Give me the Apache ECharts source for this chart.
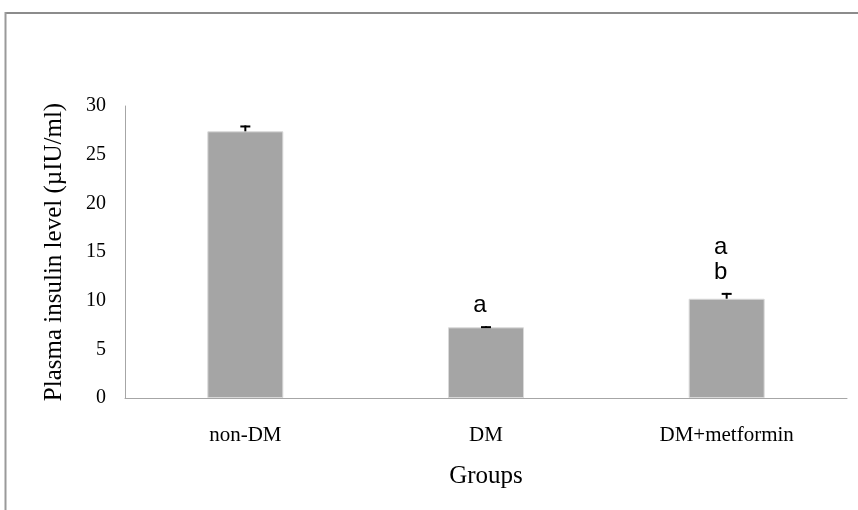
<!DOCTYPE html>
<html>
<head>
<meta charset="utf-8">
<script src="https://cdn.jsdelivr.net/npm/echarts@6/dist/echarts.min.js"></script>
<style>html,body{margin:0;padding:0;background:#fff}#c{width:858px;height:510px}</style>
</head>
<body>
<div id="c"></div>
<script>
var categories = ['non-DM', 'DM', 'DM+metformin'];
var insulin = [27.4, 7.26, 10.2];
var errors = [0.6, 0.12, 0.6];
var letters = ['', 'a', 'a\nb'];
var yTicks = { min: 0, max: 30, interval: 5 };

var serif = '"Liberation Serif", "Times New Roman", serif';
var chart = echarts.init(document.getElementById('c'), null, { renderer: 'canvas' });

var errData = categories.map(function (c, i) { return [i, insulin[i], errors[i], letters[i]]; });

chart.setOption({
  animation: false,
  backgroundColor: '#ffffff',
  graphic: [
    { type: 'line', shape: { x1: 5, y1: 13, x2: 858, y2: 13 }, style: { stroke: '#8c8c8c', lineWidth: 2 } },
    { type: 'line', shape: { x1: 5.5, y1: 12, x2: 5.5, y2: 510 }, style: { stroke: '#9a9a9a', lineWidth: 2 } }
  ],
  grid: { left: 125, right: 11, top: 106, bottom: 112, containLabel: false },
  xAxis: {
    type: 'category',
    data: categories,
    name: 'Groups',
    nameLocation: 'middle',
    nameGap: 66,
    nameTextStyle: { fontFamily: serif, fontSize: 25, color: '#000' },
    axisLine: { show: true, lineStyle: { color: '#a6a6a6', width: 1 } },
    axisTick: { show: false },
    axisLabel: { fontFamily: serif, fontSize: 21, color: '#000', margin: 27 },
    splitLine: { show: false }
  },
  yAxis: {
    type: 'value',
    min: yTicks.min,
    max: yTicks.max,
    interval: yTicks.interval,
    name: 'Plasma insulin level (µIU/ml)',
    nameLocation: 'middle',
    nameGap: 58,
    nameTextStyle: { fontFamily: serif, fontSize: 25, color: '#000' },
    axisLine: { show: true, lineStyle: { color: '#a6a6a6', width: 1 } },
    axisTick: { show: false },
    axisLabel: { fontFamily: serif, fontSize: 20, color: '#000', margin: 19 },
    splitLine: { show: false }
  },
  series: [
    {
      type: 'bar',
      data: insulin,
      barWidth: 76,
      itemStyle: { color: '#a5a5a5', borderColor: '#d9d9d9', borderWidth: 1 },
      z: 2
    },
    {
      type: 'custom',
      data: errData,
      z: 5,
      renderItem: function (params, api) {
        var i = api.value(0);
        var v = api.value(1);
        var e = api.value(2);
        var lab = errData[params.dataIndex][3];
        var base = api.coord([i, v]);
        var top = api.coord([i, v + e]);
        var children = [
          { type: 'line', shape: { x1: base[0], y1: base[1], x2: top[0], y2: top[1] }, style: { stroke: '#000', lineWidth: 2 } },
          { type: 'line', shape: { x1: top[0] - 5, y1: top[1] + 1, x2: top[0] + 5, y2: top[1] + 1 }, style: { stroke: '#000', lineWidth: 2 } }
        ];
        if (lab) {
          children.push({
            type: 'text',
            style: {
              text: lab,
              x: top[0] - 6,
              y: top[1] - 8,
              align: 'center',
              verticalAlign: 'bottom',
              fontFamily: '"Liberation Sans", Arial, sans-serif',
              fontSize: 24,
              lineHeight: 25,
              fill: '#000'
            }
          });
        }
        return { type: 'group', children: children };
      }
    }
  ]
});
</script>
</body>
</html>
